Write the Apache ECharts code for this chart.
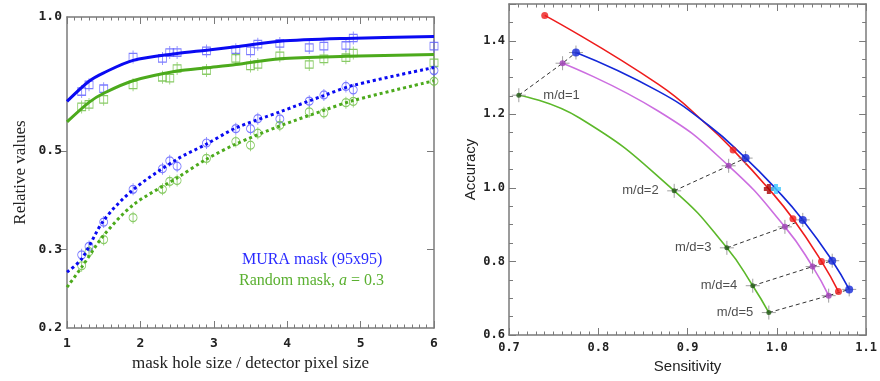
<!DOCTYPE html>
<html><head><meta charset="utf-8">
<script src="https://cdn.jsdelivr.net/npm/echarts@6/dist/echarts.min.js"></script>
<style>html,body{margin:0;padding:0;background:#fff}#c{width:880px;height:381px}</style>
</head><body><div id="c"></div>
<script>
// ---------- Left panel data ----------
const maskX = [1.2,1.3,1.5,1.9,2.3,2.4,2.5,2.9,3.3,3.5,3.6,3.9,4.3,4.5,4.8,4.9,6.0];
const muraSquare   = [0.680,0.704,0.690,0.813,0.807,0.832,0.832,0.839,0.844,0.839,0.869,0.872,0.854,0.860,0.863,0.897,0.860];
const randomSquare = [0.628,0.636,0.653,0.704,0.732,0.729,0.766,0.758,0.807,0.776,0.782,0.818,0.782,0.805,0.810,0.830,0.789];
const muraCircle   = [0.292,0.305,0.346,0.410,0.456,0.475,0.462,0.521,0.561,0.561,0.591,0.590,0.647,0.668,0.698,0.686,0.758];
const randomCircle = [0.276,0.297,0.316,0.354,0.410,0.427,0.429,0.481,0.525,0.515,0.548,0.571,0.612,0.609,0.642,0.646,0.717];

const solidX = [1,1.3,1.5,1.9,2.5,2.9,3.3,3.9,4.8,6];
const muraSolid   = [0.646,0.717,0.749,0.799,0.828,0.842,0.857,0.882,0.895,0.904];
const randomSolid = [0.581,0.643,0.674,0.719,0.756,0.769,0.782,0.806,0.816,0.824];
const dottedX = [1,1.2,1.5,1.9,2.5,2.9,3.3,3.9,4.5,4.9,6];
const muraDotted   = [0.267,0.286,0.349,0.409,0.479,0.518,0.563,0.612,0.666,0.702,0.770];
const randomDotted = [0.247,0.274,0.323,0.378,0.435,0.479,0.518,0.569,0.617,0.649,0.719];

const leftYTickLabels = [0.2,0.3,0.5,1.0];
const leftYInnerTicks = [0.3,0.5];

// ---------- Right panel data ----------
const redMarkSens = [0.740,0.951,0.991,1.018,1.050,1.069];
const redMarkAcc  = [1.469,1.103,0.997,0.916,0.800,0.718];
const redCurveSens = [0.740,0.867,0.923,0.951,0.991,1.018,1.050,1.069];
const redCurveAcc  = [1.469,1.282,1.169,1.103,0.997,0.916,0.800,0.718];

const blueMarkSens = [0.775,0.965,0.999,1.029,1.062,1.081];
const blueMarkAcc  = [1.368,1.081,0.997,0.913,0.802,0.724];
const blueCurveSens = [0.775,0.867,0.923,0.965,0.999,1.029,1.062,1.081];
const blueCurveAcc  = [1.368,1.263,1.171,1.081,0.997,0.913,0.802,0.724];

const purpleMarkSens = [0.760,0.946,1.009,1.040,1.058];
const purpleMarkAcc  = [1.339,1.060,0.894,0.786,0.707];
const purpleCurveSens = [0.760,0.867,0.946,1.009,1.040,1.058];
const purpleCurveAcc  = [1.339,1.209,1.060,0.894,0.786,0.707];

const greenMarkSens = [0.711,0.885,0.944,0.973,0.991];
const greenMarkAcc  = [1.252,0.992,0.837,0.734,0.661];
const greenCurveSens = [0.711,0.779,0.885,0.944,0.973,0.991];
const greenCurveAcc  = [1.252,1.190,0.992,0.837,0.734,0.661];

// m/d connector: green, purple, blue mark indices per m/d
const mdLabels = ['m/d=1','m/d=2','m/d=3','m/d=4','m/d=5'];
const mdBlueIdx = [0,1,3,4,5];
const mdLabelSide = ['right','left','left','left','left'];

// ---------- styles ----------
const cBlue = '#0a0af2', cGreen = '#4caa1c';
const cBlueMk = '#5a5aff', cGreenMk = '#6cbe40';
const rRed = '#ee1c1c', rBlue = '#1428d8', rPurple = '#cc6ee0', rGreen = '#5cb82a';
const frame = '#7a7a7a';
const monoLbl = {fontFamily:'DejaVu Sans Mono', fontWeight:'bold', color:'#222'};

const zip = (xs, ys) => xs.map((x,i)=>[x, ys[i]]);
const L10 = v => Math.log10(v);

const squareBar = 'path://M0,3 L8,3 L8,11 L0,11 Z M4,0 L4,14';
const circleBar = 'path://M0,7 A4,4 0 1 1 8,7 A4,4 0 1 1 0,7 Z M4,1 L4,13';
const crossPath = 'path://M7,0 L7,14 M0,7 L14,7';
const starPath = 'path://M3,0 L7,0 L7,3 L10,3 L10,7 L7,7 L7,10 L3,10 L3,7 L0,7 L0,3 L3,3 Z';

const chart = echarts.init(document.getElementById('c'), null, {renderer:'canvas'});

function frameX(gridIndex, pos, min, max, interval, minorSplit, showLabel, extra) {
  return Object.assign({
    type:'value', gridIndex, position:pos, min, max, interval,
    axisLine:{show:true, onZero:false, lineStyle:{color:frame, width:1.5}},
    axisTick:{show:true, inside:true, length:7, lineStyle:{color:frame}},
    minorTick:{show:true, splitNumber:minorSplit, length:3.5, lineStyle:{color:frame}},
    splitLine:{show:false}, minorSplitLine:{show:false},
    axisLabel:Object.assign({show:showLabel}, monoLbl)
  }, extra||{});
}

const option = {
  animation:false,
  backgroundColor:'#fff',
  grid:[
    {left:67, top:17, width:367, height:311},
    {left:509, top:4, width:361, height:331}
  ],
  xAxis:[
    frameX(0,'bottom',1,6,1,10,true,{
      axisLabel:Object.assign({show:true, fontSize:13, margin:9}, monoLbl),
      name:'mask hole size / detector pixel size', nameLocation:'middle', nameGap:27,
      nameTextStyle:{fontFamily:'Liberation Serif', fontSize:17, color:'#222'}
    }),
    frameX(0,'top',1,6,1,10,false),
    frameX(1,'bottom',0.7,1.1,0.1,10,true,{
      axisLabel:Object.assign({show:true, fontSize:12, margin:7, formatter:v=>v.toFixed(1)}, monoLbl),
      name:'Sensitivity', nameLocation:'middle', nameGap:24,
      nameTextStyle:{fontFamily:'Liberation Sans', fontSize:15, color:'#222'}
    }),
    frameX(1,'top',0.7,1.1,0.1,10,false)
  ],
  yAxis:[
    {type:'log', gridIndex:0, min:0.2, max:1.0, show:false},
    {type:'value', gridIndex:0, position:'left', min:L10(0.2), max:0,
      axisLine:{show:true, onZero:false, lineStyle:{color:frame, width:1.5}},
      axisTick:{show:true, inside:false, length:7, customValues:leftYInnerTicks.map(L10), lineStyle:{color:frame}},
      splitLine:{show:false},
      axisLabel:Object.assign({show:true, fontSize:13, margin:5, customValues:leftYTickLabels.map(L10),
        formatter:v=>Math.pow(10,v).toFixed(1)}, monoLbl),
      name:'Relative values', nameLocation:'middle', nameGap:38, nameRotate:90,
      nameTextStyle:{fontFamily:'Liberation Serif', fontSize:17, color:'#222'}
    },
    {type:'value', gridIndex:0, position:'right', min:L10(0.2), max:0,
      axisLine:{show:true, onZero:false, lineStyle:{color:frame, width:1.5}},
      axisTick:{show:true, inside:true, length:7, customValues:leftYInnerTicks.map(L10), lineStyle:{color:frame}},
      splitLine:{show:false}, axisLabel:{show:false}
    },
    {type:'value', gridIndex:1, position:'left', min:0.6, max:1.5, interval:0.2,
      axisLine:{show:true, onZero:false, lineStyle:{color:frame, width:1.5}},
      axisTick:{show:true, inside:true, length:7, lineStyle:{color:frame}},
      minorTick:{show:true, splitNumber:4, length:4, lineStyle:{color:frame}},
      splitLine:{show:false}, minorSplitLine:{show:false},
      axisLabel:Object.assign({show:true, fontSize:12, margin:4, showMaxLabel:false,
        formatter:v=>v.toFixed(1)}, monoLbl),
      name:'Accuracy', nameLocation:'middle', nameGap:31, nameRotate:90,
      nameTextStyle:{fontFamily:'Liberation Sans', fontSize:15, color:'#222'}
    },
    {type:'value', gridIndex:1, position:'right', min:0.6, max:1.5, interval:0.2,
      axisLine:{show:true, onZero:false, lineStyle:{color:frame, width:1.5}},
      axisTick:{show:true, inside:true, length:7, lineStyle:{color:frame}},
      minorTick:{show:true, splitNumber:4, length:4, lineStyle:{color:frame}},
      splitLine:{show:false}, minorSplitLine:{show:false}, axisLabel:{show:false}
    }
  ],
  graphic:[
    {type:'text', left:242, top:252, style:{text:'MURA mask (95x95)', fill:'#2a2aff',
      font:'16px "Liberation Serif"'}},
    {type:'text', left:239, top:273, style:{text:'Random mask, {i|a} = 0.3', fill:'#5ab030',
      font:'16px "Liberation Serif"', rich:{i:{fontStyle:'italic', fontFamily:'Liberation Serif', fontSize:16, fill:'#5ab030'}}}}
  ],
  series:[]
};

const S = option.series;
const lScatter = (data, sym, size, col) => ({type:'scatter', xAxisIndex:0, yAxisIndex:0, data, symbol:sym, symbolSize:size,
  itemStyle:{color:'rgba(0,0,0,0)', borderColor:col, borderWidth:1}, z:2});
S.push(lScatter(zip(maskX, muraSquare), squareBar, [8,13], cBlueMk));
S.push(lScatter(zip(maskX, randomSquare), squareBar, [8,13], cGreenMk));
S.push(lScatter(zip(maskX, muraCircle), circleBar, [8,12], cBlueMk));
S.push(lScatter(zip(maskX, randomCircle), circleBar, [8,12], cGreenMk));
const lLine = (data, col, dotted) => ({type:'line', xAxisIndex:0, yAxisIndex:0, data, smooth:0.3,
  showSymbol:false, lineStyle:{color:col, width:3, type:dotted?[3,3]:'solid', cap:'butt'}, z:3});
S.push(lLine(zip(solidX, muraSolid), cBlue, false));
S.push(lLine(zip(solidX, randomSolid), cGreen, false));
S.push(lLine(zip(dottedX, muraDotted), cBlue, true));
S.push(lLine(zip(dottedX, randomDotted), cGreen, true));

const rLine = (xs, ys, col) => ({type:'line', xAxisIndex:2, yAxisIndex:3, data:zip(xs,ys), smooth:0.5,
  showSymbol:false, lineStyle:{color:col, width:1.6}, z:2});
S.push(rLine(greenCurveSens, greenCurveAcc, rGreen));
S.push(rLine(purpleCurveSens, purpleCurveAcc, rPurple));
S.push(rLine(redCurveSens, redCurveAcc, rRed));
S.push(rLine(blueCurveSens, blueCurveAcc, rBlue));

mdLabels.forEach((lab, k) => {
  S.push({type:'line', xAxisIndex:2, yAxisIndex:3, showSymbol:false, z:1,
    data:[[greenMarkSens[k], greenMarkAcc[k]], [purpleMarkSens[k], purpleMarkAcc[k]], [blueMarkSens[mdBlueIdx[k]], blueMarkAcc[mdBlueIdx[k]]]],
    lineStyle:{color:'#333', width:1, type:[4,3]}});
});

const crossData = zip(blueMarkSens, blueMarkAcc).filter((d,i)=>i!==2)
  .concat(zip(purpleMarkSens, purpleMarkAcc), zip(greenMarkSens, greenMarkAcc));
S.push({type:'scatter', xAxisIndex:2, yAxisIndex:3, data:crossData, symbol:crossPath, symbolSize:14,
  itemStyle:{color:'rgba(0,0,0,0)', borderColor:'#888', borderWidth:1}, z:3});

S.push({type:'scatter', xAxisIndex:2, yAxisIndex:3, symbol:'circle', symbolSize:7, z:4,
  itemStyle:{color:rRed},
  data:zip(redMarkSens, redMarkAcc).map((d,i)=> i===2 ? {value:d, symbol:starPath, symbolSize:10, itemStyle:{color:'#a80000'}} : d)});
S.push({type:'scatter', xAxisIndex:2, yAxisIndex:3, symbol:'circle', symbolSize:8, z:4,
  itemStyle:{color:rBlue},
  data:zip(blueMarkSens, blueMarkAcc).map((d,i)=> i===2 ? {value:d, symbol:starPath, symbolSize:10, itemStyle:{color:'#3cc8ff'}} : d)});
S.push({type:'scatter', xAxisIndex:2, yAxisIndex:3, symbol:'circle', symbolSize:6, z:4,
  itemStyle:{color:'#a040b8'}, data:zip(purpleMarkSens, purpleMarkAcc)});
S.push({type:'scatter', xAxisIndex:2, yAxisIndex:3, symbol:'circle', symbolSize:5, z:4,
  itemStyle:{color:'#1e5a10'},
  data:zip(greenMarkSens, greenMarkAcc).map((d,i)=>({value:d,
    label:{show:true, formatter:mdLabels[i], position:mdLabelSide[i], distance: i===0?22:13,
      fontFamily:'Liberation Sans', fontSize:13, color:'#222'}}))});

chart.setOption(option);
</script></body></html>
